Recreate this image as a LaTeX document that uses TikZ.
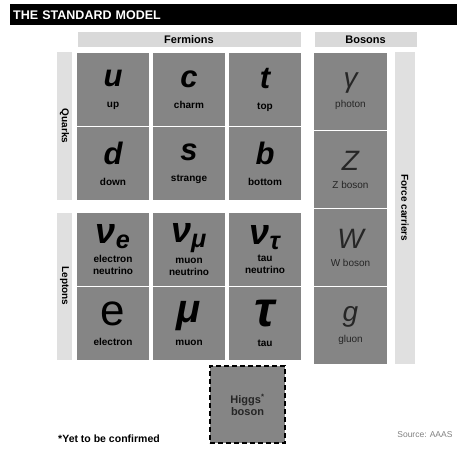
\documentclass[tikz,border=0pt]{standalone}
\usepackage{fontspec}
\setmainfont{Liberation Sans}
\usetikzlibrary{positioning}
\definecolor{smCell}{HTML}{858585}
\definecolor{smBand}{HTML}{D9D9D9}
\definecolor{smSide}{HTML}{E0E0E0}
\definecolor{smDark}{HTML}{262626}
\newcommand{\bigsym}[2][31]{{\fontsize{#1}{#1}\selectfont\bfseries\itshape #2}}
\newcommand{\bossym}[1]{{\fontsize{28}{28}\selectfont\itshape\color{smDark}#1}}
\newcommand{\cellname}[1]{{\fontsize{10}{11}\selectfont\bfseries #1}}
\newcommand{\bosname}[1]{{\fontsize{10}{11}\selectfont\color{smDark}#1}}
\begin{document}
\begin{tikzpicture}[x=1pt,y=-1pt,
        cell/.style={fill=smCell,minimum width=72pt,minimum height=73pt,
                   inner sep=0pt,outer sep=0pt,align=center},
        bcell/.style={cell,minimum width=73pt,minimum height=77pt},
        band/.style={fill=smBand,inner sep=0pt,outer sep=0pt,minimum height=15pt,
                   font=\fontsize{11}{11}\selectfont\bfseries},
        side/.style={fill=smSide,inner sep=0pt,outer sep=0pt,rotate=-90,
                   minimum height=15pt,font=\fontsize{10}{10}\selectfont\bfseries}]
        \useasboundingbox (0,0) rectangle (457,449);
        \node[fill=black,text=white,anchor=north west,minimum height=21pt,text width=441pt,
              inner xsep=3pt,inner ysep=0pt,font=\fontsize{12.5}{12.5}\selectfont\bfseries] (title) at (10,4) {THE STANDARD MODEL};
        % quarks
        \node[cell] (u) at (113,89.5) {\bigsym{u}\\[9pt]\cellname{up}};
        \node[cell,right=4pt of u] (c) {\bigsym{c}\\[9pt]\cellname{charm}};
        \node[cell,right=4pt of c] (t) {\bigsym{t}\\[9pt]\cellname{top}};
        \node[cell,below=1pt of u] (d) {\bigsym{d}\\[9pt]\cellname{down}};
        \node[cell,below=1pt of c] (s) {\bigsym{s}\\[9pt]\cellname{strange}};
        \node[cell,below=1pt of t] (b) {\bigsym{b}\\[9pt]\cellname{bottom}};
        % leptons
        \node[cell,below=13pt of d] (ve) {\bigsym[36]{ν\textsubscript{e}}\\[5pt]\cellname{electron}\\\cellname{neutrino}};
        \node[cell,below=13pt of s] (vm) {\bigsym[36]{ν\textsubscript{μ}}\\[5pt]\cellname{muon}\\\cellname{neutrino}};
        \node[cell,below=13pt of b] (vt) {\bigsym[36]{ν\textsubscript{τ}}\\[5pt]\cellname{tau}\\\cellname{neutrino}};
        \node[cell,below=1pt of ve] (e) {{\fontsize{44}{44}\selectfont e}\\[8pt]\cellname{electron}};
        \node[cell,below=1pt of vm] (mu) {\bigsym[40]{μ}\\[8pt]\cellname{muon}};
        \node[cell,below=1pt of vt] (tau) {\bigsym[50]{τ}\\[8pt]\cellname{tau}};
        % bosons
        \node[bcell,right=13pt of t.north east,anchor=north west] (gam) {\bossym{γ}\\[6pt]\bosname{photon}};
        \node[bcell,below=1pt of gam] (z) {\bossym{Z}\\[6pt]\bosname{Z boson}};
        \node[bcell,below=1pt of z] (w) {\bossym{W}\\[6pt]\bosname{W boson}};
        \node[bcell,below=1pt of w] (g) {\bossym{g}\\[6pt]\bosname{gluon}};
        \node[cell,draw=black,line width=1.3pt,dash pattern=on 5pt off 3pt,
              minimum width=75pt,minimum height=77pt,font=\fontsize{11}{12}\selectfont\bfseries,
              text=smDark] (h) at (247.5,404.5) {Higgs\textsuperscript{*}\\boson};
        % group labels
        \node[band,minimum width=223pt,above=6pt of c] (ferm) {Fermions};
        \node[band,minimum width=102pt,above=6pt of gam,xshift=15pt] (bos) {Bosons};
        \node[side,minimum width=147pt] (qk) at ([xshift=-12.5pt]u.south west) {Quarks};
        \node[side,minimum width=147pt] (lp) at ([xshift=-12.5pt]ve.south west) {Leptons};
        \node[side,minimum width=311pt,minimum height=20pt] (fc) at ([xshift=18pt]z.south east) {Force carriers};
        % notes
        \node[font=\fontsize{10.5}{10.5}\selectfont\bfseries] (note) at (109,439) {*Yet to be confirmed};
        \node[anchor=east,text=gray,font=\fontsize{8.5}{8.5}\selectfont] (src) at (456,435) {Source: AAAS};
      \end{tikzpicture}
\end{document}
